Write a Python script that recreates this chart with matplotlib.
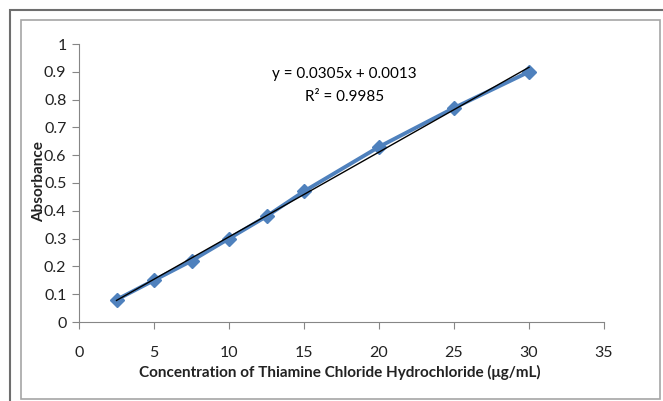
import matplotlib.pyplot as plt
import numpy as np
from matplotlib.patches import Rectangle

# concentration (ug/mL) and absorbance readings
conc = [2.5, 5, 7.5, 10, 12.5, 15, 20, 25, 30]
absorb = [0.08, 0.15, 0.22, 0.30, 0.38, 0.47, 0.63, 0.77, 0.90]
slope = 0.0305
intercept = 0.0013
eq_line1 = "y = 0.0305x + 0.0013"
eq_line2 = "R² = 0.9985"

plt.rcParams["font.family"] = ["Lato", "DejaVu Sans"]

W, H = 663, 401
fig = plt.figure(figsize=(W / 100, H / 100), dpi=100)

# chart frames (outer and inner borders)
fig.patches.append(Rectangle((10 / W, -0.05), 1.1, 1 - 10 / H + 0.05,
                             transform=fig.transFigure, fill=False,
                             edgecolor="#6e6e6e", linewidth=1.5))
fig.patches.append(Rectangle((21 / W, 1 - 399 / H), (660 - 21) / W, (399 - 20) / H,
                             transform=fig.transFigure, fill=False,
                             edgecolor="#a6a6a6", linewidth=1.2))

ax = fig.add_axes([79 / W, 1 - 322 / H, (604 - 79) / W, (322 - 44) / H])

ax.plot(conc, absorb, color="#4f81bd", linewidth=2.8, marker="D",
        markersize=7.5, zorder=2)
xfit = np.array([conc[0], conc[-1]])
ax.plot(xfit, slope * xfit + intercept, color="black", linewidth=1.0, zorder=3)

ax.text(17.7, 0.893, eq_line1, ha="center", va="center", fontsize=11)
ax.text(17.7, 0.808, eq_line2, ha="center", va="center", fontsize=11)

ax.set_xlim(0, 35)
ax.set_ylim(0, 1)
ax.set_xticks(np.arange(0, 36, 5))
ax.set_yticks(np.round(np.arange(0, 1.01, 0.1), 1))
ax.set_yticklabels(["0", "0.1", "0.2", "0.3", "0.4", "0.5", "0.6", "0.7",
                    "0.8", "0.9", "1"])

for s in ["top", "right"]:
    ax.spines[s].set_visible(False)
for s in ["left", "bottom"]:
    ax.spines[s].set_color("#868686")
ax.tick_params(direction="out", length=5, color="#868686", labelsize=11.5,
               labelcolor="#222222", pad=4)
ax.tick_params(axis="x", pad=12)

fig.text(39 / W, 1 - 182 / H, "Absorbance", rotation=90, ha="center",
         va="center", fontsize=11, fontweight="bold", color="#222222")
fig.text(340 / W, 1 - 372 / H,
         "Concentration of Thiamine Chloride Hydrochloride (μg/mL)",
         ha="center", va="center", fontsize=11, fontweight="bold",
         color="#222222")

fig.savefig("out.png", dpi=100)
